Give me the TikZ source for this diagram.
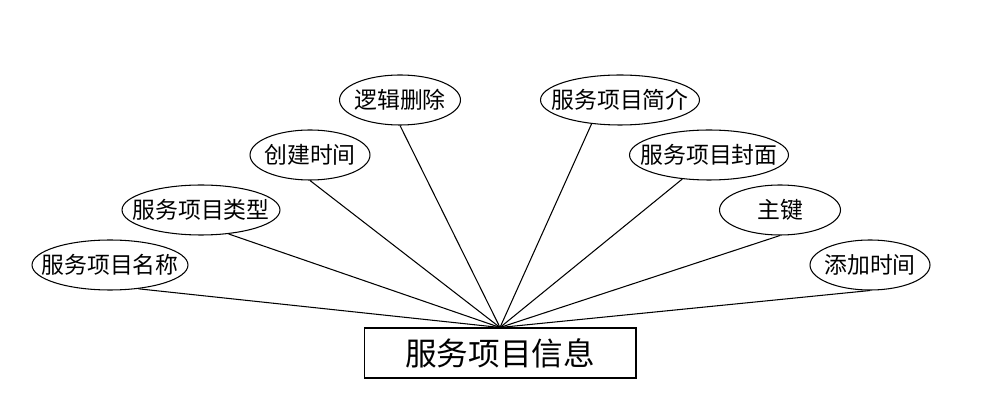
\documentclass[tikz,border=0pt]{standalone}
\usepackage{fontspec}
\setmainfont{Noto Sans CJK SC}
\usetikzlibrary{shapes.geometric}
\newcommand{\attrtext}[1]{\makebox[0pt]{#1}}
\begin{document}
\begin{tikzpicture}[x=0.02cm,y=-0.02cm,line width=0.6pt,
    attr/.style={draw,ellipse,inner sep=0pt,minimum height=1cm,
      font=\fontsize{13pt}{13pt}\selectfont},
    entity/.style={draw,rectangle,inner sep=0pt,minimum width=5.44cm,
      minimum height=1cm,font=\fontsize{18pt}{18pt}\selectfont}]
  \useasboundingbox (0,0) rectangle (1000,408);
  \node[entity] (info) at (500,353) {服务项目信息};
  \node[attr,minimum width=3.12cm] (name) at (110,265) {\attrtext{服务项目名称}};
  \node[attr,minimum width=3.16cm] (type) at (201,210) {\attrtext{服务项目类型}};
  \node[attr,minimum width=2.4cm] (ctime) at (310,155) {\attrtext{创建时间}};
  \node[attr,minimum width=2.42cm] (del) at (400,100) {\attrtext{逻辑删除}};
  \node[attr,minimum width=3.18cm] (intro) at (620,100) {\attrtext{服务项目简介}};
  \node[attr,minimum width=3.18cm] (cover) at (709,155) {\attrtext{服务项目封面}};
  \node[attr,minimum width=2.42cm] (key) at (780,210) {\attrtext{主键}};
  \node[attr,minimum width=2.4cm] (atime) at (870,265) {\attrtext{添加时间}};
  \draw (name.-40) -- (info.north);
  \draw (type.-41) -- (info.north);
  \draw (ctime.south) -- (info.north);
  \draw (del.south) -- (info.north);
  \draw (intro.-140) -- (info.north);
  \draw (cover.-138) -- (info.north);
  \draw (key.south) -- (info.north);
  \draw (atime.south) -- (info.north);
\end{tikzpicture}
\end{document}
